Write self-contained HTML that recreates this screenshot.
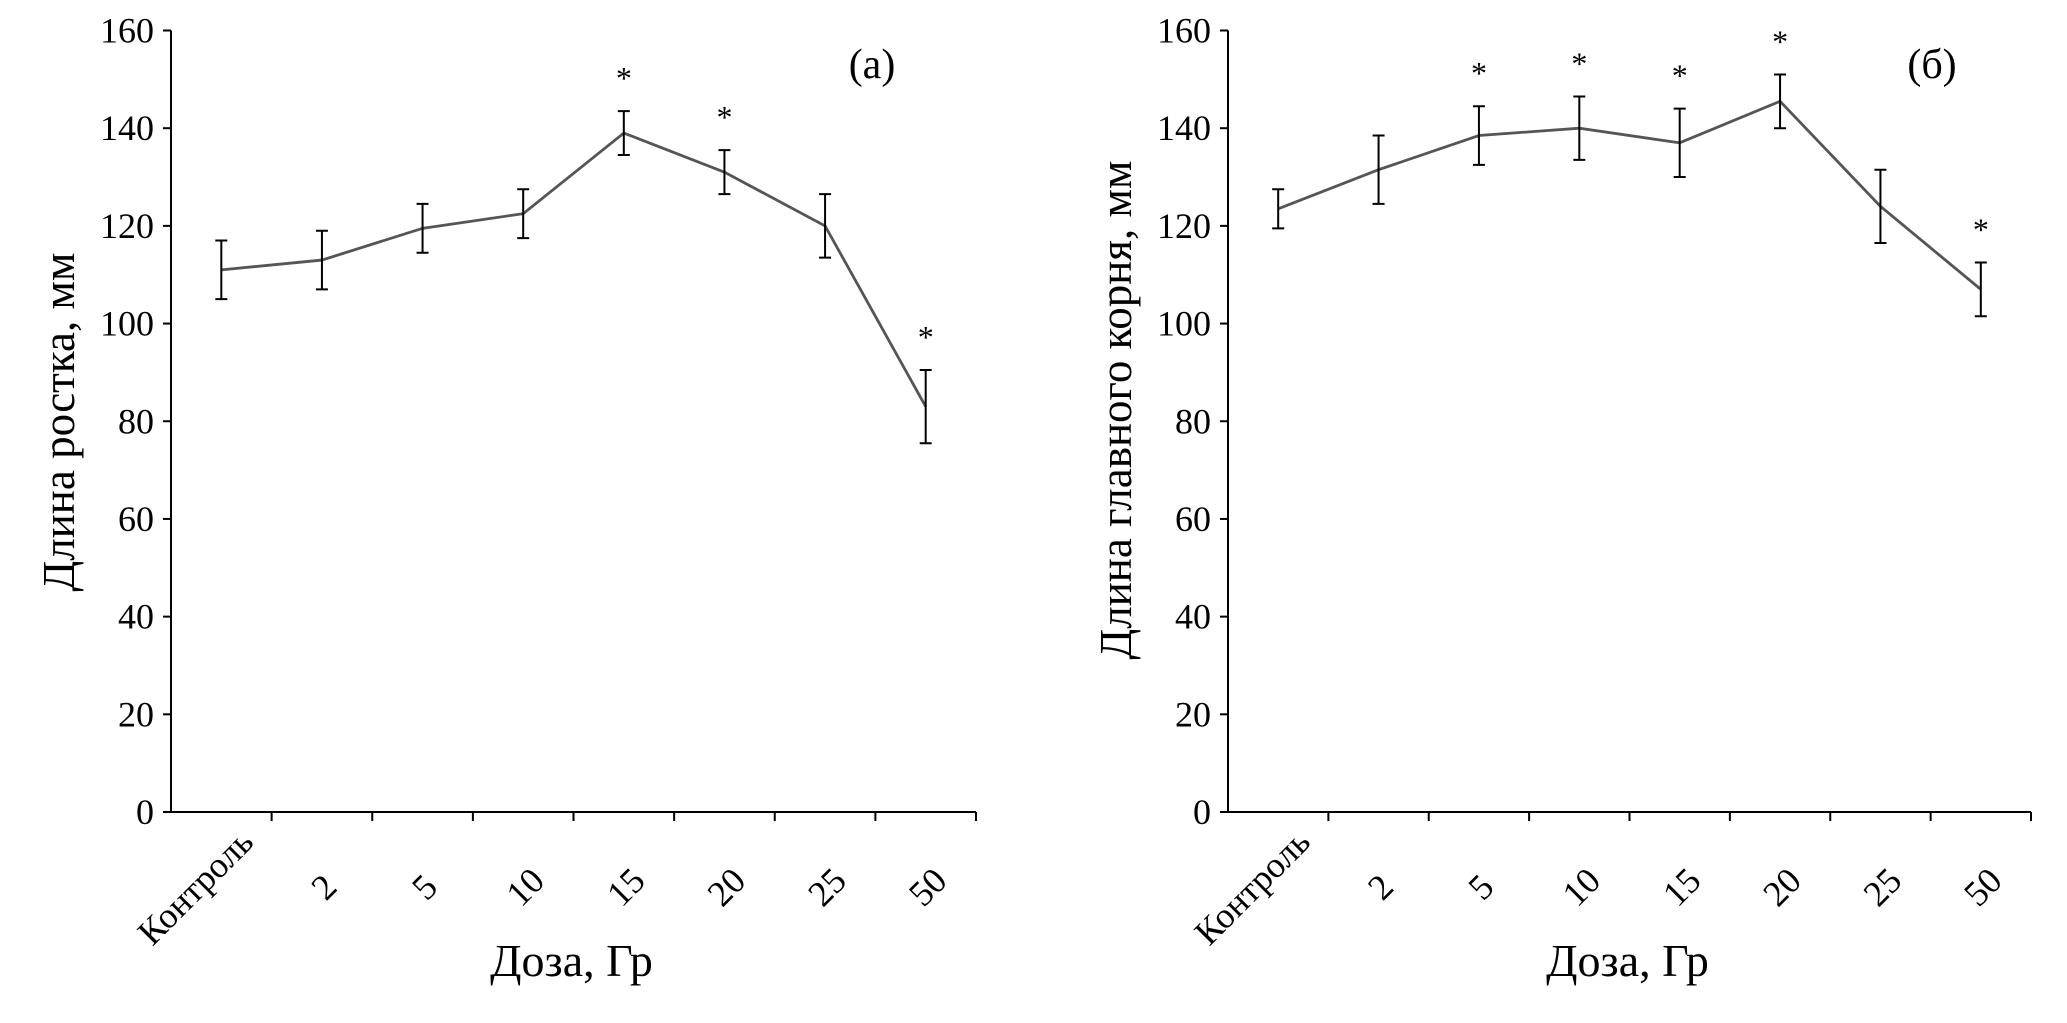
<!DOCTYPE html>
<html><head><meta charset="utf-8"><style>
html,body{margin:0;padding:0;background:#fff;}
svg{display:block;font-family:"Liberation Serif",serif;}
</style></head><body>
<svg id="chart" width="2067" height="1023" viewBox="0 0 2067 1023"></svg>
<script>
const categories = ["Контроль","2","5","10","15","20","25","50"];
const valuesA = [111,113,119.5,122.5,139,131,120,83];
const errorsA = [6,6,5,5,4.5,4.5,6.5,7.5];
const starsA = [false,false,false,false,true,true,false,true];
const valuesB = [123.5,131.5,138.5,140,137,145.5,124,107];
const errorsB = [4,7,6,6.5,7,5.5,7.5,5.5];
const starsB = [false,false,true,true,true,true,false,true];
const yTicks = [0,20,40,60,80,100,120,140,160];

const NS="http://www.w3.org/2000/svg";
const svg=document.getElementById('chart');
function mk(tag,attrs,parent,text){const e=document.createElementNS(NS,tag);for(const k in attrs)e.setAttribute(k,attrs[k]);if(text!==undefined)e.textContent=text;parent.appendChild(e);return e;}

function panel(name,x0,x1,vals,errs,stars,ytitle,ytx,yty,letter,lx){
  const g=mk('g',{},svg);
  
  
  const yTop=30.5,yBot=812;
  const y=v=>yBot-(v/160)*(yBot-yTop);
  const w=(x1-x0)/categories.length;
  const cx=i=>x0+w*(i+0.5);
  const ax=mk('line',{x1:x0,y1:yTop,x2:x0,y2:yBot,stroke:'#000','stroke-width':2},g);
  
  
  const bx=mk('line',{x1:x0,y1:yBot,x2:x1,y2:yBot,stroke:'#000','stroke-width':2},g);
  
  
  yTicks.forEach(t=>{
    mk('line',{x1:x0-8,y1:y(t),x2:x0,y2:y(t),stroke:'#000','stroke-width':2},g);
    const tl=mk('text',{x:x0-17,y:y(t)+12,'text-anchor':'end','font-size':36},g,String(t));
    
    
  });
  categories.forEach((c,i)=>{
    const tx=x0+w*(i+1);
    mk('line',{x1:tx,y1:yBot,x2:tx,y2:yBot+9,stroke:'#000','stroke-width':2},g);
    const lx2=cx(i)+(i===0?-26:2), ly=887;
    const tl=mk('text',{x:lx2,y:ly,'text-anchor':'middle','dominant-baseline':'central','font-size':36,transform:`rotate(-45 ${lx2} ${ly})`},g,c);
    
    
  });
  const pts=vals.map((v,i)=>cx(i)+','+y(v)).join(' ');
  const line=mk('polyline',{points:pts,fill:'none',stroke:'#555','stroke-width':2.8},g);
  
  
  vals.forEach((v,i)=>{
    const x=cx(i),t=y(v+errs[i]),b=y(v-errs[i]);
    const eb=mk('path',{d:`M${x},${t}V${b}M${x-6},${t}H${x+6}M${x-6},${b}H${x+6}`,stroke:'#000','stroke-width':2,fill:'none'},g);
    
    
    if(stars[i]){
      const s=mk('text',{x:x,y:t-22,'text-anchor':'middle','font-size':32},g,'*');
      
      
    }
  });
  const yt=mk('text',{x:ytx,y:yty,'text-anchor':'middle','font-size':45,transform:`rotate(-90 ${ytx} ${yty})`},g,ytitle);
  
  
  const xt=mk('text',{x:(x0+x1)/2-2,y:976,'text-anchor':'middle','font-size':46},g,'Доза, Гр');
  
  
  const pl=mk('text',{x:lx,y:78,'text-anchor':'middle','font-size':42},g,letter);
  
  
}
panel('panel-a',171,976,valuesA,errorsA,starsA,'Длина ростка, мм',74,422,'(а)',872);
panel('panel-b',1228,2031,valuesB,errorsB,starsB,'Длина главного корня, мм',1131,410,'(б)',1932);
</script>
</body></html>
